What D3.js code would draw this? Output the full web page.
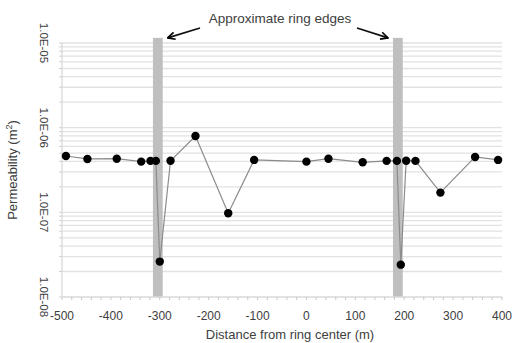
<!DOCTYPE html>
<html>
<head>
<meta charset="utf-8">
<script src="https://cdn.jsdelivr.net/npm/d3@7"></script>
<style>
  html, body { margin: 0; padding: 0; background: #fff; }
  svg text { font-family: "Liberation Sans", Arial, sans-serif; fill: #404040; }
</style>
</head>
<body>
<svg id="chart" width="513" height="343"></svg>
<script>
// ---- data ----
const distance = [-492, -448, -388, -338, -319, -308, -300, -278, -227, -160, -107, 0, 45, 115, 164, 185, 193, 204, 223, 274, 345, 392];
const permeability = [4.63e-7, 4.27e-7, 4.3e-7, 3.97e-7, 4.05e-7, 4.05e-7, 2.62e-8, 4.07e-7, 7.98e-7, 9.77e-8, 4.16e-7, 3.97e-7, 4.3e-7, 3.9e-7, 4.05e-7, 4.05e-7, 2.41e-8, 4.07e-7, 4.05e-7, 1.71e-7, 4.51e-7, 4.16e-7];
const ringEdgeStart = [-314, 177];
const ringEdgeEnd = [-294, 197];
const xTickValues = [-500, -400, -300, -200, -100, 0, 100, 200, 300, 400];
const yTickValues = [1e-8, 1e-7, 1e-6, 1e-5];
const yTickLabels = ["1.0E-08", "1.0E-07", "1.0E-06", "1.0E-05"];
const annotationText = "Approximate ring edges";
const xTitle = "Distance from ring center (m)";

// ---- layout ----
const W = 513, H = 343;
const m = { left: 62, right: 11, top: 43, bottom: 46 };
const svg = d3.select("#chart");

const x = d3.scaleLinear().domain([-500, 400]).range([m.left, W - m.right]);
const y = d3.scaleLog().domain([1e-8, 1e-5]).range([H - m.bottom, m.top]);

// minor gridlines (log)
const gridVals = [];
for (let e = -8; e < -5; e++) {
  for (let k = 1; k <= 9; k++) gridVals.push(k * Math.pow(10, e));
}
gridVals.push(1e-5);

svg.append("g").selectAll("line").data(gridVals.filter(v => v > 1e-8)).join("line")
  .attr("x1", x(-500)).attr("x2", x(400))
  .attr("y1", d => y(d)).attr("y2", d => y(d))
  .attr("stroke", "#e2e2e2").attr("stroke-width", 1.3);

// y axis ticks
svg.append("g").selectAll("line").data(gridVals).join("line")
  .attr("x1", x(-500) - 3).attr("x2", x(-500))
  .attr("y1", d => y(d)).attr("y2", d => y(d))
  .attr("stroke", "#d0d0d0").attr("stroke-width", 1);

// ring edge bands
const bandTop = y(1.15e-5);
svg.append("g").selectAll("rect").data(ringEdgeStart).join("rect")
  .attr("x", d => x(d))
  .attr("width", (d, i) => x(ringEdgeEnd[i]) - x(d))
  .attr("y", bandTop)
  .attr("height", y(1e-8) - bandTop)
  .attr("fill", "#bfbfbf");

// axes lines
svg.append("line").attr("x1", x(-500)).attr("x2", x(-500))
  .attr("y1", y(1e-5)).attr("y2", y(1e-8)).attr("stroke", "#d9d9d9").attr("stroke-width", 1.3);
svg.append("line").attr("x1", x(-500)).attr("x2", x(400))
  .attr("y1", y(1e-8)).attr("y2", y(1e-8)).attr("stroke", "#d9d9d9").attr("stroke-width", 1.3);

// x axis with minor ticks
const xMinor = d3.range(-500, 401, 20);
svg.append("g").selectAll("line").data(xMinor).join("line")
  .attr("x1", d => x(d)).attr("x2", d => x(d))
  .attr("y1", y(1e-8)).attr("y2", y(1e-8) + 3)
  .attr("stroke", "#c8c8c8").attr("stroke-width", 1);

svg.append("g").selectAll("text").data(xTickValues).join("text")
  .attr("x", d => x(d)).attr("y", y(1e-8) + 23)
  .attr("text-anchor", "middle").attr("font-size", 12)
  .text(d => d);

// y tick labels (rotated)
svg.append("g").selectAll("text").data(yTickValues).join("text")
  .attr("transform", d => `translate(43,${y(d)}) rotate(90)`)
  .attr("text-anchor", "middle").attr("dominant-baseline", "middle")
  .attr("font-size", 11.5)
  .text((d, i) => yTickLabels[i]);

// axis titles
const yl = svg.append("text")
  .attr("transform", `translate(17,${(y(1e-5) + y(1e-8)) / 2}) rotate(-90)`)
  .attr("text-anchor", "middle").attr("font-size", 13);
yl.append("tspan").text("Permeability (m");
yl.append("tspan").attr("font-size", 9).attr("dy", -5).text("2");
yl.append("tspan").attr("dy", 5).text(")");

svg.append("text").attr("x", 290).attr("y", 339)
  .attr("text-anchor", "middle").attr("font-size", 13)
  .text(xTitle);

// data line and points
const pts = distance.map((d, i) => [d, permeability[i]]);
svg.append("path").datum(pts)
  .attr("d", d3.line().x(d => x(d[0])).y(d => y(d[1])))
  .attr("fill", "none").attr("stroke", "#8c8c8c").attr("stroke-width", 1.2);
svg.append("g").selectAll("circle").data(pts).join("circle")
  .attr("cx", d => x(d[0])).attr("cy", d => y(d[1])).attr("r", 4.2)
  .attr("fill", "#000");

// annotation
svg.append("text").attr("x", 280).attr("y", 23)
  .attr("text-anchor", "middle").attr("font-size", 13.5)
  .text(annotationText);

svg.append("defs").append("marker")
  .attr("id", "arr").attr("viewBox", "0 0 10 10").attr("refX", 9).attr("refY", 5)
  .attr("markerWidth", 5).attr("markerHeight", 5).attr("orient", "auto")
  .append("path").attr("d", "M1,1 L9,5 L1,9").attr("fill", "none")
  .attr("stroke", "#000").attr("stroke-width", 1.8);

svg.append("line").attr("x1", 200).attr("y1", 28)
  .attr("x2", x(ringEdgeEnd[0]) + 5).attr("y2", bandTop)
  .attr("stroke", "#111").attr("stroke-width", 1.8).attr("marker-end", "url(#arr)");
svg.append("line").attr("x1", 357).attr("y1", 28)
  .attr("x2", x(ringEdgeStart[1]) - 5).attr("y2", bandTop)
  .attr("stroke", "#111").attr("stroke-width", 1.8).attr("marker-end", "url(#arr)");
</script>
</body>
</html>
